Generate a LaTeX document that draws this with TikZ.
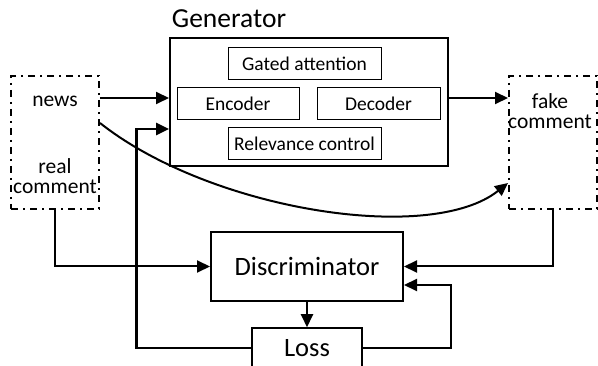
\documentclass[tikz,border=0pt]{standalone}
\usepackage{fontspec}
\setmainfont{Carlito}
\usetikzlibrary{arrows.meta}

\begin{document}
\begin{tikzpicture}[x=1pt, y=-1pt,
    block/.style={draw, line width=2pt, inner sep=0pt, font=\fontsize{26.5}{28}\selectfont},
    part/.style={draw, line width=1pt, inner sep=0pt, minimum width=153pt, minimum height=32pt, font=\fontsize{19.5}{21}\selectfont},
    data/.style={draw, line width=2pt, dash pattern=on 7pt off 5pt on 2pt off 5pt, inner sep=0pt, minimum width=88pt, minimum height=133pt},
    word/.style={font=\fontsize{21.5}{19.5}\selectfont, align=center, inner sep=0pt},
    flow/.style={line width=2pt, -{Triangle[length=13pt,width=12pt]}}]
    \useasboundingbox (0,0) rectangle (598,366);
    \node [data] (real) at (55,142.5) {};
    \node [data] (fake) at (553,142.5) {};
    \node [word] (news) at (55,101) {news};
    \node [word] (realtxt) at (55,176) {real\\comment};
    \node [word] (faketxt) at (550,111) {fake\\comment};
    \node [block, minimum width=278pt, minimum height=128pt] (gen) at (309,102) {};
    \node [font=\fontsize{27.5}{30}\selectfont, inner sep=0pt] (genlabel) at (229,19) {Generator};
    \node [part] (gated) at (304.5,64) {Gated attention};
    \node [part, minimum width=122pt] (enc) at (238,104) {Encoder};
    \node [part, minimum width=123pt] (dec) at (378.5,104) {Decoder};
    \node [part] (relev) at (304.5,144) {Relevance control};
    \node [block, minimum width=192pt, minimum height=69pt] (disc) at (307,266.5) {Discriminator};
    \node [block, line width=1.5pt, minimum width=110pt, minimum height=40pt] (loss) at (307,348) {Loss};
    \draw [flow] ([yshift=4pt]gen.west -| real.east) -- ([yshift=4pt]gen.west);
    \draw [flow] ([yshift=4pt]gen.east) -- ([yshift=4pt]gen.east -| fake.west);
    \draw [flow] ([yshift=19.5pt]real.east) .. controls (210,210) and (430,245) .. ([yshift=-40.5pt]fake.west);
    \draw [flow] (real.south) |- (disc.west);
    \draw [flow] (fake.south) |- (disc.east);
    \draw [flow] (disc.south) -- (loss.north);
    \draw [flow] (loss.east) -- ++(88,0) |- ([yshift=-18.5pt]disc.east);
    \draw [flow, line width=2.7pt] (loss.west) -- ++(-115,0) |- ([yshift=-27pt]gen.west);
\end{tikzpicture}
\end{document}
